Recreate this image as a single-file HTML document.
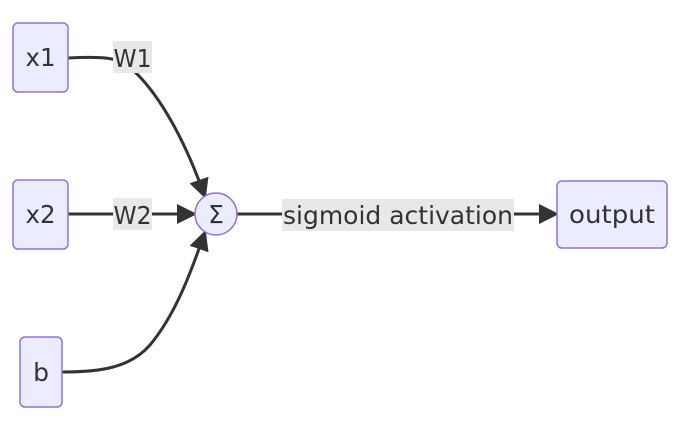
<!DOCTYPE html>
<html><head><style>
body{margin:0;background:#fff;width:680px;height:421px;overflow:hidden}
text{font-family:"DejaVu Sans","Liberation Sans",sans-serif;fill:#333}
</style></head><body>
<svg width="680" height="421" viewBox="0 0 680 421">
<defs>
<marker id="ah2" markerWidth="20" markerHeight="20" refX="18" refY="10" orient="auto" markerUnits="userSpaceOnUse" viewBox="0 0 20 20"><path d="M0,0 L20,10 L0,20 z" fill="#333"/></marker></defs>
<g fill="none" stroke="#333" stroke-width="3">
<path d="M68,58 C110,56 120,58 135,72 C160,96 185,140 205,197" marker-end="url(#ah2)"/>
<path d="M68,214 L195,214" marker-end="url(#ah2)"/>
<path d="M62,372 C100,372 130,368 150,345 C175,315 190,275 205,232" marker-end="url(#ah2)"/>
<path d="M237,214 L557,214" marker-end="url(#ah2)"/>
</g>
<g><rect x="113" y="41" width="39" height="32" fill="#e8e8e8"/><text x="132.5" y="67" font-size="25" text-anchor="middle" textLength="38" lengthAdjust="spacingAndGlyphs">W1</text></g>
<g><rect x="113" y="198" width="39" height="32" fill="#e8e8e8"/><text x="132.5" y="224" font-size="25" text-anchor="middle" textLength="38" lengthAdjust="spacingAndGlyphs">W2</text></g>
<g><rect x="282" y="199" width="232" height="32" fill="#e8e8e8"/><text x="398" y="224" font-size="25" text-anchor="middle" textLength="230" lengthAdjust="spacingAndGlyphs">sigmoid activation</text></g>
<g stroke="#9370db" stroke-width="1.5" fill="#ececff">
<g><rect x="13" y="23" width="55" height="69" rx="5"/><text x="40.5" y="66" font-size="25" text-anchor="middle" stroke="none" textLength="30" lengthAdjust="spacingAndGlyphs">x1</text></g>
<g><rect x="13" y="180" width="55" height="69" rx="5"/><text x="40.5" y="223" font-size="25" text-anchor="middle" stroke="none" textLength="30" lengthAdjust="spacingAndGlyphs">x2</text></g>
<g><rect x="20" y="337" width="42" height="70" rx="5"/><text x="41" y="381" font-size="25" text-anchor="middle" stroke="none">b</text></g>
<g><circle cx="216" cy="214" r="21"/><text x="216" y="223" font-size="25" text-anchor="middle" stroke="none">Σ</text></g>
<g><rect x="557" y="181" width="110" height="67" rx="5"/><text x="612" y="223" font-size="25" text-anchor="middle" stroke="none" textLength="86" lengthAdjust="spacingAndGlyphs">output</text></g>
</g>
</svg>
</body></html>
